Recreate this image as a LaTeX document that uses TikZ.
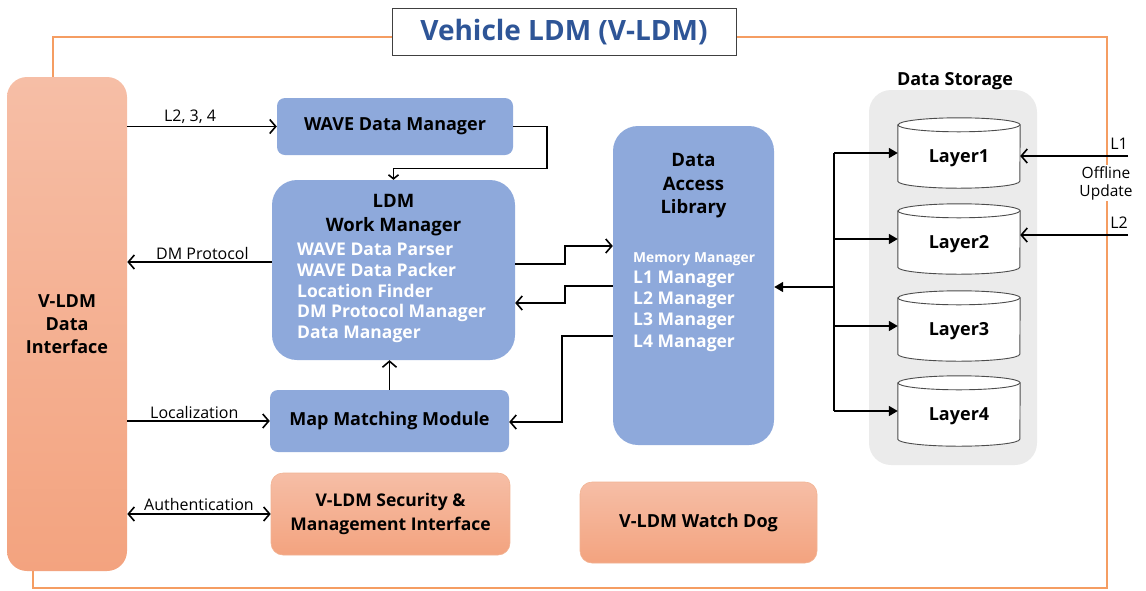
\documentclass[tikz,border=0pt]{standalone}
\usepackage{fontspec}
\setmainfont{Open Sans}
\usetikzlibrary{arrows.meta,calc}
\definecolor{bluefill}{HTML}{8EA9DB}
\definecolor{salmontop}{HTML}{F6BEA6}
\definecolor{salmonbot}{HTML}{F3A37F}
\definecolor{salmonedge}{HTML}{F2B393}
\definecolor{framecol}{HTML}{F59D62}
\definecolor{titlecol}{HTML}{2E5597}
\definecolor{storegray}{HTML}{EBEBEB}
\tikzset{
  box/.style={inner sep=0pt, align=center, font=\bfseries\fontsize{18}{23}\selectfont},
  bbox/.style={box, fill=bluefill, rounded corners=8pt},
  sbox/.style={box, top color=salmontop, bottom color=salmonbot, draw=salmonedge, line width=0.6pt, rounded corners=12pt},
  arr/.style={line width=1.6pt, -{Straight Barb[length=6pt,width=14pt]}},
  darr/.style={line width=1.6pt, {Straight Barb[length=6pt,width=14pt]}-{Straight Barb[length=6pt,width=14pt]}},
  farr/.style={line width=1.6pt, -{Triangle[length=9pt,width=10pt]}},
  lbl/.style={font=\fontsize{16}{18}\selectfont, inner sep=2pt},
  wtxt/.style={font=\bfseries\fontsize{17.5}{20}\selectfont, text=white, inner sep=0pt, anchor=west},
  frame/.style={draw=framecol, line width=1.5pt},
  layerbox/.style={inner sep=0pt, minimum width=122pt, minimum height=70pt}
}
\newcommand{\cyl}[1]{%
  \draw[line width=0.9pt, draw=black!70, fill=white]
    ([yshift=-7pt]#1.north west) -- ([yshift=7pt]#1.south west)
    arc[start angle=180, end angle=360, x radius=61pt, y radius=7pt]
    -- ([yshift=-7pt]#1.north east)
    arc[start angle=0, end angle=180, x radius=61pt, y radius=7pt] -- cycle;
  \draw[line width=0.9pt, draw=black!70] ([yshift=-7pt]#1.north west)
    arc[start angle=180, end angle=360, x radius=61pt, y radius=7pt];}
\begin{document}
\begin{tikzpicture}[x=1pt,y=-1pt]
\useasboundingbox (0,0) rectangle (1146,590);

% frame
\draw[frame] (392,37) -- (53,37) -- (53,77);
\draw[frame] (736,37) -- (1107,37) -- (1107,588) -- (33,588) -- (33,571);

% title
\node[draw=black!75, line width=0.9pt, fill=white, minimum width=344pt, minimum height=47pt, inner sep=0pt,
      text=titlecol, font=\bfseries\fontsize{28}{32}\selectfont] (title) at (564,32) {Vehicle LDM (V-LDM)};

% left interface
\node[sbox, draw=none, rounded corners=20pt, minimum width=120pt, minimum height=494pt] (ldi) at (67,324) {V-LDM\\Data\\Interface};

% blue boxes
\node[bbox, minimum width=236pt, minimum height=57pt] (wdm) at (395,126.5) {WAVE Data Manager};
\node[bbox, rounded corners=25pt, minimum width=243pt, minimum height=180pt] (ldm) at (393.5,270) {};
\node[box, font=\bfseries\fontsize{18.5}{24}\selectfont] (ldmt) at (393.5,215) {LDM\\Work Manager};
\node[wtxt] (w1) at (297,249) {WAVE Data Parser};
\node[wtxt] (w2) at (297,270) {WAVE Data Packer};
\node[wtxt] (w3) at (297,291) {Location Finder};
\node[wtxt] (w4) at (297,313) {DM Protocol Manager};
\node[wtxt] (w5) at (297,334) {Data Manager};

\node[bbox, minimum width=239pt, minimum height=62pt] (mmm) at (389.5,421) {Map Matching Module};

\node[bbox, rounded corners=25pt, minimum width=161pt, minimum height=319pt] (dal) at (693.5,285.5) {};
\node[box, font=\bfseries\fontsize{18.5}{23.5}\selectfont] (dalt) at (693.5,186) {Data\\Access\\Library};
\node[wtxt, font=\bfseries\fontsize{13.8}{16}\selectfont] (m0) at (633,259) {Memory Manager};
\node[wtxt] (m1) at (633,279) {L1 Manager};
\node[wtxt] (m2) at (633,300) {L2 Manager};
\node[wtxt] (m3) at (633,321) {L3 Manager};
\node[wtxt] (m4) at (633,343) {L4 Manager};

% salmon boxes
\node[sbox, font=\bfseries\fontsize{17.5}{24}\selectfont, minimum width=239pt, minimum height=82pt] (sec) at (390.5,514) {V-LDM Security \&\\Management Interface};
\node[sbox, minimum width=237pt, minimum height=81pt] (wd) at (698.5,522.5) {V-LDM Watch Dog};

% data storage
\node[fill=storegray, rounded corners=22pt, minimum width=168pt, minimum height=375pt, inner sep=0pt] (ds) at (953,277.5) {};
\node[box] (dst) at (955,81) {Data Storage};
\node[layerbox] (l1) at (959,153) {};
\node[layerbox] (l2) at (959,239) {};
\node[layerbox] (l3) at (959,326) {};
\node[layerbox] (l4) at (959,411) {};
\cyl{l1}\cyl{l2}\cyl{l3}\cyl{l4}
\node[box] at ([yshift=-5pt]l1.center) {Layer1};
\node[box] at ([yshift=-5pt]l2.center) {Layer2};
\node[box] at ([yshift=-5pt]l3.center) {Layer3};
\node[box] at ([yshift=-5pt]l4.center) {Layer4};

% connectors
\draw[arr] (ldi.east |- wdm.west) -- node[lbl, above, pos=0.42] {L2, 3, 4} (wdm.west);
\draw[line width=1.6pt, -{Straight Barb[length=4pt,width=10pt]}] (wdm.east) -- ++(34,0) -- ++(0,42) -| (ldm.north);
\draw[arr] (ldm.west |- 0,262) -- node[lbl, above, pos=0.48] {DM Protocol} (ldi.east |- 0,262);
\draw[arr] (mmm.north) -- (ldm.south -| mmm.north);
\draw[arr] (ldi.east |- mmm.west) -- node[lbl, above, pos=0.47] {Localization} (mmm.west);
\draw[darr] (ldi.east |- sec.west) -- node[lbl, above, yshift=1pt] {Authentication} (sec.west);

\draw[arr] (ldm.east |- 0,264) -- (565,264) -- (565,246) -- (dal.west |- 0,246);
\draw[arr] (dal.west |- 0,286) -- (565,286) -- (565,303) -- (ldm.east |- 0,303);
\draw[arr] (dal.west |- 0,336) -- (562,336) -- (562,422) -- (mmm.east |- 0,422);

\coordinate (trunk) at (834,287);
\draw[farr] (trunk) -- (dal.east |- trunk);
\draw[line width=1.6pt] (trunk |- l1.west) -- (trunk |- l4.west);
\draw[farr] (trunk |- l1.west) -- (l1.west);
\draw[farr] (trunk |- l2.west) -- (l2.west);
\draw[farr] (trunk |- l3.west) -- (l3.west);
\draw[farr] (trunk |- l4.west) -- (l4.west);

\coordinate (s1) at (1128,156);
\coordinate (s2) at (1128,235);
\draw[arr] (s1) -- (s1 -| l1.east);
\draw[arr] (s2) -- (s2 -| l2.east);
\node[lbl, anchor=south] (t1) at (1119,152) {L1};
\node[lbl, anchor=south] (t2) at (1119,231) {L2};
\node[lbl, fill=white, align=center, inner sep=1pt, font=\fontsize{15.5}{18}\selectfont] (off) at (1106,183) {Offline\\Update};
\end{tikzpicture}
\end{document}
